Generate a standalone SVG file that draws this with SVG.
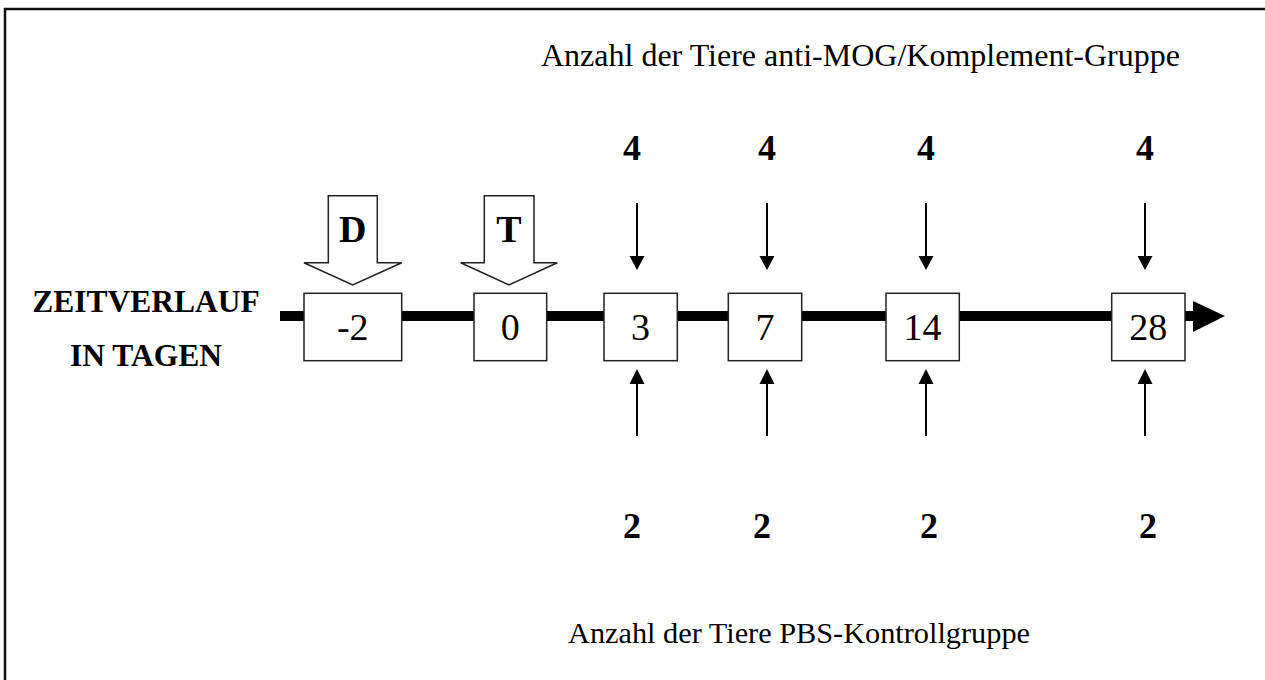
<svg xmlns="http://www.w3.org/2000/svg" width="1265" height="680" viewBox="0 0 1265 680">
<style>
.cap{font-family:"Liberation Serif","Times New Roman",serif;font-size:30px;fill:#000}
.lbl{font-family:"Liberation Serif","Times New Roman",serif;font-size:31.5px;font-weight:bold;fill:#000;text-anchor:middle}
.num{font-family:"Liberation Serif","Times New Roman",serif;font-size:36px;font-weight:bold;fill:#000;text-anchor:middle}
.let{font-family:"Liberation Serif","Times New Roman",serif;font-size:38px;font-weight:bold;fill:#000;text-anchor:middle}
.box{fill:#fff;stroke:#222;stroke-width:1.5}
.boxt{font-family:"Liberation Serif","Times New Roman",serif;font-size:38px;fill:#000;text-anchor:middle}
.blk{fill:#fff;stroke:#222;stroke-width:1.5}
.ar{stroke:#000;stroke-width:2;fill:none}
.hd{fill:#000}
</style>
<rect x="0" y="0" width="1265" height="680" fill="#fff"/>
<rect x="5" y="9" width="1300" height="700" fill="none" stroke="#111" stroke-width="2.5"/>
<text class="cap" x="541" y="66" style="font-size:32px">Anzahl der Tiere anti-MOG/Komplement-Gruppe</text>
<text class="cap" x="568" y="643" style="font-size:30.3px">Anzahl der Tiere PBS-Kontrollgruppe</text>
<g id="label">
<text class="lbl" x="146" y="312">ZEITVERLAUF</text>
<text class="lbl" x="146" y="366">IN TAGEN</text>
</g>
<g id="connectors">
<rect x="280" y="311" width="913" height="10" fill="#000"/>
<polygon points="1193,301 1225,316 1193,332" fill="#000"/>
<line class="ar" x1="637" y1="203" x2="637" y2="257"/><polygon class="hd" points="629.5,256 644.5,256 637,270"/>
<line class="ar" x1="767" y1="203" x2="767" y2="257"/><polygon class="hd" points="759.5,256 774.5,256 767,270"/>
<line class="ar" x1="926" y1="203" x2="926" y2="257"/><polygon class="hd" points="918.5,256 933.5,256 926,270"/>
<line class="ar" x1="1145" y1="203" x2="1145" y2="257"/><polygon class="hd" points="1137.5,256 1152.5,256 1145,270"/>
<line class="ar" x1="637" y1="383" x2="637" y2="436"/><polygon class="hd" points="629.5,384 644.5,384 637,369"/>
<line class="ar" x1="767" y1="383" x2="767" y2="436"/><polygon class="hd" points="759.5,384 774.5,384 767,369"/>
<line class="ar" x1="926" y1="383" x2="926" y2="436"/><polygon class="hd" points="918.5,384 933.5,384 926,369"/>
<line class="ar" x1="1145" y1="383" x2="1145" y2="436"/><polygon class="hd" points="1137.5,384 1152.5,384 1145,369"/>
</g>
<g id="arrowD">
<polygon class="blk" points="328.3,195.7 377.3,195.7 377.3,262.7 401.7,262.7 352.7,285 304,262.7 328.3,262.7"/>
<text class="let" x="352.7" y="242">D</text>
</g>
<g id="arrowT">
<polygon class="blk" points="484.3,195.7 534,195.7 534,262.7 557.3,262.7 509,285 460.7,262.7 484.3,262.7"/>
<text class="let" x="509" y="242">T</text>
</g>
<g id="day-2"><rect class="box" x="304" y="293.3" width="97.7" height="67.4"/><text class="boxt" x="352.8" y="340">-2</text></g>
<g id="day0"><rect class="box" x="474" y="293.3" width="72.7" height="67.4"/><text class="boxt" x="510.3" y="340">0</text></g>
<g id="day3"><rect class="box" x="604" y="293.3" width="73.3" height="67.4"/><text class="boxt" x="640.6" y="340">3</text></g>
<g id="day7"><rect class="box" x="728.3" y="293.3" width="73.4" height="67.4"/><text class="boxt" x="765" y="340">7</text></g>
<g id="day14"><rect class="box" x="886" y="293.3" width="73.3" height="67.4"/><text class="boxt" x="922.6" y="340">14</text></g>
<g id="day28"><rect class="box" x="1111.7" y="293.3" width="73.3" height="67.4"/><text class="boxt" x="1148.3" y="340">28</text></g>
<g id="counts-top">
<text class="num" x="632" y="160">4</text>
<text class="num" x="767" y="160">4</text>
<text class="num" x="926" y="160">4</text>
<text class="num" x="1145" y="160">4</text>
</g>
<g id="counts-bottom">
<text class="num" x="632" y="538">2</text>
<text class="num" x="762" y="538">2</text>
<text class="num" x="929" y="538">2</text>
<text class="num" x="1148" y="538">2</text>
</g>
</svg>
